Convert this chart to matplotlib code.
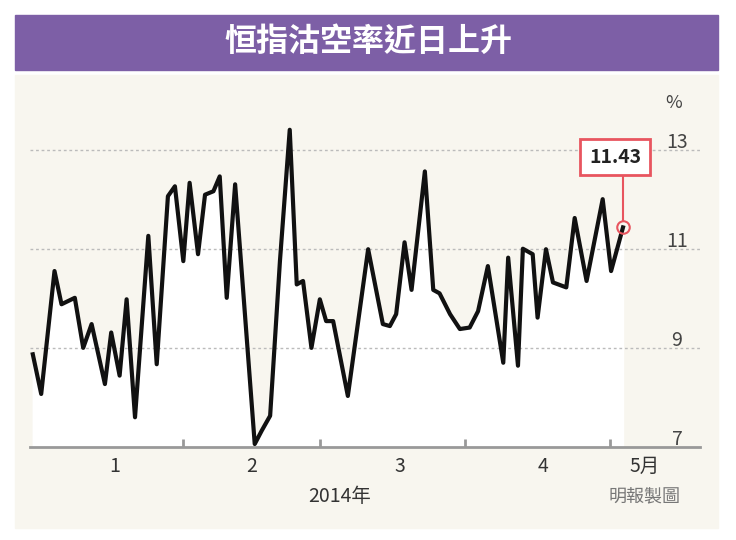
import matplotlib.pyplot as plt
from matplotlib.patches import Rectangle

plt.rcParams['font.family'] = ['Noto Sans CJK TC', 'DejaVu Sans']

# trading-day position (approx) and short-selling ratio (%)
day = [0, 1.2, 3.1, 4.1, 6, 7.2, 8.4, 10.3, 11.2, 12.4, 13.4, 14.6, 16.5, 17.7,
       19.3, 20.3, 21.5, 22.4, 23.6, 24.6, 25.8, 26.7, 27.7, 28.9, 31.7, 32.7,
       33.9, 35.3, 36.7, 37.7, 38.6, 39.8, 41, 41.9, 42.9, 45, 47.9, 50, 51,
       51.9, 53.1, 54.1, 56, 57.2, 58.1, 59.6, 61, 62.4, 63.6, 65, 67.2, 67.9,
       69.3, 70, 71.4, 72.1, 73.3, 74.3, 76.2, 77.4, 79.1, 81.4, 82.6, 84.3]
ratio = [8.87, 8.07, 10.55, 9.88, 10.01, 9.0, 9.48, 8.27, 9.31, 8.44, 9.98, 7.6,
         11.26, 8.67, 12.06, 12.26, 10.75, 12.33, 10.89, 12.09, 12.16, 12.46,
         10.01, 12.3, 7.06, 7.33, 7.63, 10.75, 13.4, 10.28, 10.35, 9.0, 9.98,
         9.54, 9.54, 8.03, 10.99, 9.48, 9.44, 9.68, 11.13, 10.17, 12.56, 10.17,
         10.1, 9.68, 9.38, 9.41, 9.74, 10.65, 8.7, 10.82, 8.64, 11.0, 10.89,
         9.61, 10.99, 10.32, 10.22, 11.62, 10.35, 12.0, 10.55, 11.43]
month_ticks = [21.4, 41, 61.7, 82.4]
month_label_pos = [11.7, 31.3, 52.4, 72.9, 87.4]
month_labels = ['1', '2', '3', '4', '5月']
y_ticks = [7, 9, 11, 13]

cream = '#f8f6ef'
fig = plt.figure(figsize=(7.36, 5.4), dpi=100)
fig.patches.append(Rectangle((15/736, 1-528/540), 703/736, 453/540,
                             transform=fig.transFigure, color=cream, zorder=-2))
fig.patches.append(Rectangle((15/736, 1-70/540), 703/736, 55/540,
                             transform=fig.transFigure, color='#7d5fa6', zorder=-1))
fig.text(0.5, 1-42/540, '恒指沽空率近日上升', color='white', fontsize=23,
         fontweight='bold', ha='center', va='center')

ax = fig.add_axes([30/736, 1-447/540, 670/736, 342/540])
ax.set_zorder(5)
ax.set_facecolor(cream)
ax.set_xlim(-0.4, 95.3)
ax.set_ylim(7, 13.9)
ax.fill_between(day, ratio, 7, color='white', zorder=1)
ax.plot(day, ratio, color='#111111', lw=3, zorder=3)
for v in y_ticks[1:]:
    ax.axhline(v, color='#bbbbbb', ls=(0, (2, 2)), lw=1, zorder=2)
for v in y_ticks:
    ax.text(92, v + 0.15, str(v), ha='center', va='center', fontsize=14, color='#444444')
ax.text(91.5, 13.95, '%', ha='center', va='center', fontsize=13, color='#444444')

ax.plot(day[-1], ratio[-1], 'o', ms=9, mfc='none', mec='#e8555f', mew=1.5, zorder=4)
ax.plot([day[-1], day[-1]], [ratio[-1] + 0.15, 12.45], color='#e8555f', lw=1.5, zorder=4)
ax.text(83.2, 12.85, '%.2f' % ratio[-1], ha='center', va='center', fontsize=14,
        fontweight='bold', color='#222222', zorder=5,
        bbox=dict(boxstyle='square,pad=0.45', fc='white', ec='#e8555f', lw=2))

for s in ['left', 'right', 'top']:
    ax.spines[s].set_visible(False)
ax.spines['bottom'].set_color('#999999')
ax.spines['bottom'].set_linewidth(2)
ax.set_yticks([])
ax.set_xticks(month_ticks)
ax.set_xticklabels([])
ax.tick_params(axis='x', direction='in', length=6, color='#999999', width=2)
for p, lab in zip(month_label_pos, month_labels):
    ax.text(p, 6.6, lab, ha='center', va='center', fontsize=14, color='#333333')

fig.text(340/736, 1-497/540, '2014年', ha='center', va='center', fontsize=14, color='#333333')
fig.text(645/736, 1-497/540, '明報製圖', ha='center', va='center', fontsize=13, color='#777777')

fig.savefig('out.png', dpi=100)
